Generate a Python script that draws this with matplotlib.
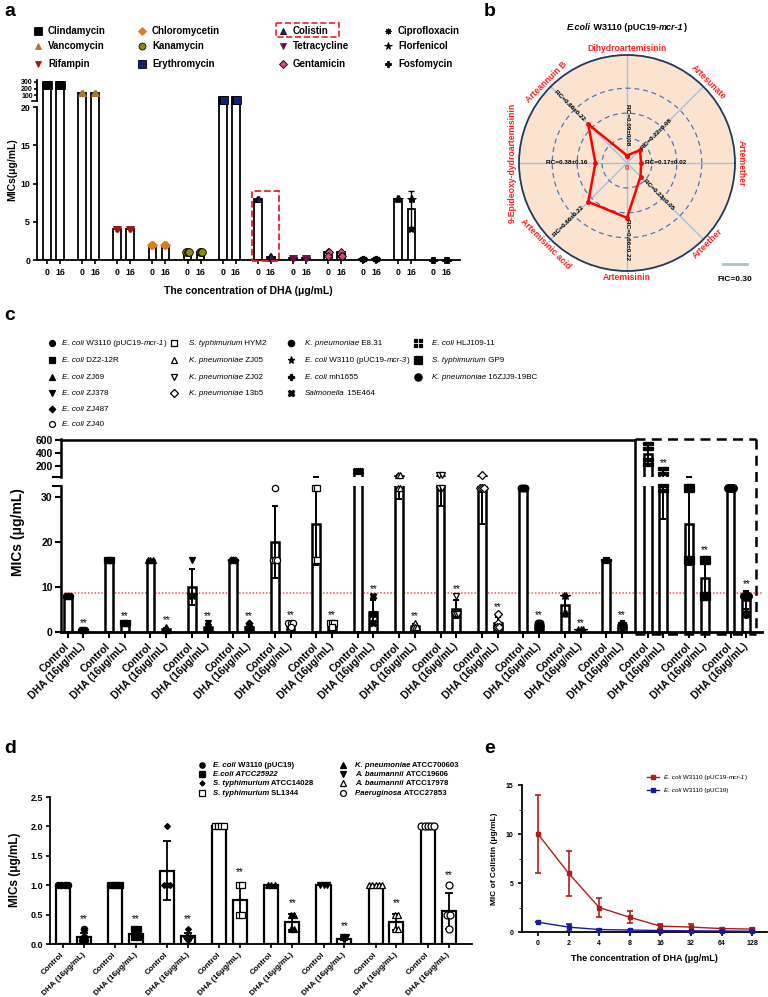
import numpy as np
import matplotlib
matplotlib.use('Agg')
import matplotlib.pyplot as plt
import matplotlib.transforms as mtransforms
from matplotlib.patches import Rectangle
from matplotlib.lines import Line2D
from matplotlib.path import Path
from matplotlib.ticker import MultipleLocator

plt.rcParams.update({
    'font.family': ['Liberation Sans', 'DejaVu Sans'],
    'font.weight': 'bold',
    'axes.labelweight': 'bold',
    'axes.linewidth': 1.3,
    'xtick.major.width': 1.2,
    'ytick.major.width': 1.2,
})

# ======================= DATA =======================
# ---- panel a ----
a_drugs = ['Clindamycin', 'Vancomycin', 'Rifampin', 'Chloromycetin', 'Kanamycin', 'Erythromycin',
           'Colistin', 'Tetracycline', 'Gentamicin', 'Ciprofloxacin', 'Florfenicol', 'Fosfomycin']
a_ctrl = [256, 128, 4, 2, 1, 32, 8, 0.25, 1, 0.125, 8, 0.0625]
a_ctrl_sd = [0, 0, 0, 0, 0, 0, 0, 0, 0, 0, 0, 0]
a_dha = [256, 128, 4, 2, 1, 32, 0.4, 0.25, 1, 0.125, 6.67, 0.0625]
a_dha_sd = [0, 0, 0, 0, 0, 0, 0, 0, 0, 0, 2.31, 0]
a_ctrl_pts = [[256] * 3, [128] * 3, [4] * 3, [2] * 3, [1] * 3, [32] * 3, [8] * 3, [0.25] * 3,
              [1, 1, 0.5], [0.125] * 3, [8] * 3, [0.0625] * 3]
a_dha_pts = [[256] * 3, [128] * 3, [4] * 3, [2] * 3, [1] * 3, [32] * 3, [0.5, 0.25, 0.5], [0.25] * 3,
             [1, 0.5, 0.5], [0.125] * 3, [8, 8, 4], [0.0625] * 3]
a_ticklabels = ['0', '16']

# ---- panel b ----
b_title = '_E.coli_ W3110 (pUC19-_mcr-1_)'
b_agents = ['Dihydroartemisinin', 'Artesunate', 'Artemether', 'Arteether', 'Artemisinin',
            'Artemisinic acid', '9-Epideoxy-dydroartemisinin', 'Arteannuin B']
b_fic = [0.09, 0.22, 0.17, 0.23, 0.66, 0.66, 0.38, 0.66]
b_sd = [0.08, 0.08, 0.02, 0.05, 0.22, 0.22, 0.16, 0.22]
b_rings = [0.3, 0.6, 0.9]

# ---- panel c ----  (bar order; '_' marks italic parts)
c_strains = ['_E. coli_ W3110 (pUC19-_mcr-1_)', '_E. coli_ DZ2-12R', '_E. coli_ ZJ69', '_E. coli_ ZJ378',
             '_E. coli_ ZJ487', '_E. coli_ ZJ40', '_S. typhimurium_ HYM2', '_Salmonella_ 15E464',
             '_K. pneumoniae_ ZJ05', '_K. pneumoniae_ ZJ02', '_K. pneumoniae_ 13b5', '_K. pneumoniae_ E8.31',
             '_E. coli_ W3110 (pUC19-_mcr-3_)', '_E. coli_ mh1655', '_E. coli_ HLJ109-11',
             '_S. typhimurium_ GP9', '_K. pneumoniae_ 16ZJJ9-19BC']
c_ctrl_mean = [8, 16, 16, 10, 16, 20, 24, 128, 48, 48, 40, 32, 6, 16, 384, 24, 32]
c_ctrl_sd = [0, 0, 0, 4, 0, 8, 9.24, 0, 18.5, 20, 16, 0, 2.31, 0, 148, 9.24, 0]
c_ctrl_pts = [[8, 8, 8], [16, 16, 16], [16, 16, 16], [16, 8, 8, 8], [16, 16, 16], [32, 16, 16, 16],
              [32, 32, 16, 16], [128, 128, 128], [64, 64, 32, 32], [64, 64, 32, 32], [64, 32, 32, 32],
              [32, 32, 32], [8, 8, 4, 4], [16, 16, 16], [512, 512, 256, 256], [32, 32, 16, 16], [32, 32, 32]]
c_dha_mean = [0.5, 2, 0.67, 1, 1.1, 1.75, 1.75, 4.5, 1.25, 5, 2, 1.5, 0.5, 1.5, 80, 12, 7]
c_dha_sd = [0, 0, 0.29, 0.71, 0.63, 0.5, 0.5, 2.5, 0.5, 2, 1.41, 0.58, 0, 0.58, 55, 4.62, 2]
c_dha_pts = [[0.5, 0.5, 0.5], [2, 2, 2], [1, 0.5, 0.5], [2, 1, 0.5, 0.5], [2, 1, 1, 0.5], [2, 2, 2, 1],
             [2, 2, 2, 1], [8, 4, 4, 2], [2, 1, 1, 1], [8, 4, 4, 4], [4, 2, 1, 1], [2, 2, 1, 1],
             [0.5, 0.5, 0.5], [2, 2, 1, 1], [128, 128, 32, 32], [16, 16, 8, 8], [8, 8, 8, 4]]
c_breakpoint = 8.6
c_ticklabels = ['Control', 'DHA (16\u03bcg/mL)']

# ---- panel d ----
d_strains = ['_E. coli_ W3110 (pUC19)', '_E.coli ATCC25922_', '_S. typhimurium_ ATCC14028',
             '_S. typhimurium_ SL1344', '_K. pneumoniae_ ATCC700603', '_A. baumannii_ ATCC19606',
             '_A. baumannii_ ATCC17978', '_P.aeruginosa_ ATCC27853']
d_ctrl_mean = [1, 1, 1.25, 2, 1, 1, 1, 2]
d_ctrl_sd = [0, 0, 0.5, 0, 0, 0, 0, 0]
d_ctrl_pts = [[1, 1, 1, 1], [1, 1, 1, 1], [2, 1, 1, 1], [2, 2, 2, 2], [1, 1, 1], [1, 1, 1],
              [1, 1, 1, 1, 1], [2, 2, 2, 2, 2]]
d_dha_mean = [0.125, 0.17, 0.14, 0.75, 0.375, 0.09, 0.375, 0.5625]
d_dha_sd = [0.07, 0.06, 0.05, 0.29, 0.14, 0.03, 0.14, 0.31]
d_dha_pts = [[0.25, 0.125, 0.0625, 0.0625], [0.25, 0.25, 0.125, 0.125], [0.25, 0.125, 0.125, 0.0625],
             [1, 1, 0.5, 0.5], [0.5, 0.5, 0.25, 0.25], [0.125, 0.125, 0.0625], [0.5, 0.5, 0.25, 0.25],
             [1, 0.5, 0.5, 0.25]]
d_ticklabels = ['Control', 'DHA (16\u03bcg/mL)']

# ---- panel e ----
e_conc = ['0', '2', '4', '8', '16', '32', '64', '128']
e_mcr1 = [10, 6, 2.5, 1.5, 0.6, 0.5, 0.35, 0.3]
e_mcr1_sd = [4, 2.3, 1, 0.6, 0.25, 0.35, 0.1, 0.1]
e_puc = [1, 0.5, 0.25, 0.2, 0.15, 0.12, 0.1, 0.08]
e_puc_sd = [0, 0.35, 0.05, 0.05, 0.05, 0.03, 0.02, 0.02]
e_series = ['_E. coli_ W3110 (pUC19-_mcr-1_)', '_E. coli_ W3110 (pUC19)']

# ======================= STYLE =======================
a_styles = [dict(marker='s', mfc='k', mec='k'), dict(marker='^', mfc='#a8762e', mec='#a8762e'),
            dict(marker='v', mfc='#a31616', mec='#a31616'), dict(marker='D', mfc='#e07b1a', mec='#e07b1a'),
            dict(marker='o', mfc='#8b8b12', mec='k'), dict(marker='s', mfc='#14207a', mec='k'),
            dict(marker='^', mfc='#4b1560', mec='k'), dict(marker='v', mfc='#6b1048', mec='#6b1048'),
            dict(marker='D', mfc='#e0457b', mec='k'), dict(marker=(8, 1, 0), mfc='k', mec='k'),
            dict(marker='*', mfc='k', mec='k'), dict(marker='P', mfc='k', mec='k')]
a_ms = [6, 5, 5, 4, 5.5, 6, 5, 5, 4, 5, 6, 5]

_v, _c = [], []
for sx in (-1, 1):
    for sy in (-1, 1):
        _v += [(sx * 0.15, sy * 0.15), (sx * 1, sy * 0.15), (sx * 1, sy * 1), (sx * 0.15, sy * 1), (0, 0)]
        _c += [Path.MOVETO, Path.LINETO, Path.LINETO, Path.LINETO, Path.CLOSEPOLY]
crossbox = Path(_v, _c)

c_styles = [dict(marker='o', mfc='k'), dict(marker='s', mfc='k'), dict(marker='^', mfc='k'),
            dict(marker='v', mfc='k'), dict(marker='D', mfc='k'), dict(marker='o', mfc='white'),
            dict(marker='s', mfc='white'), dict(marker='X', mfc='k'), dict(marker='^', mfc='white'),
            dict(marker='v', mfc='white'), dict(marker='D', mfc='white'), dict(marker='o', mfc='k'),
            dict(marker='*', mfc='k'), dict(marker='P', mfc='k'), dict(marker=crossbox, mfc='k'),
            dict(marker='s', mfc='k'), dict(marker='o', mfc='k')]
c_ms = [4.5, 4.5, 4.5, 4.5, 3.5, 4.5, 4.5, 5, 4.5, 4.5, 3.8, 4.8, 5.5, 5, 5.5, 5.5, 5.5]
c_leg_pos = [(0, 0), (0, 1), (0, 2), (0, 3), (0, 4), (0, 5), (1, 0), (2, 3), (1, 1), (1, 2), (1, 3),
             (2, 0), (2, 1), (2, 2), (3, 0), (3, 1), (3, 2)]

d_styles = [dict(marker='o', mfc='k'), dict(marker='s', mfc='k'), dict(marker='D', mfc='k'),
            dict(marker='s', mfc='white'), dict(marker='^', mfc='k'), dict(marker='v', mfc='k'),
            dict(marker='^', mfc='white'), dict(marker='o', mfc='white')]
d_ms = [4.5, 4.5, 3, 5, 4.5, 4.5, 5, 5]

W, H = 768, 997
fig = plt.figure(figsize=(W / 100, H / 100), dpi=100)
renderer = fig.canvas.get_renderer()


def rect(l, t, r, b):
    return [l / W, 1 - b / H, (r - l) / W, (b - t) / H]


def spread_x(x, vals, dx):
    vals = np.asarray(vals, float)
    xs = np.empty(len(vals))
    for v in np.unique(vals):
        idx = np.where(vals == v)[0]
        xs[idx] = x + (np.arange(len(idx)) - (len(idx) - 1) / 2) * dx
    return xs


def draw_bar(ax, x, mean, sd, pts, style, ms, bw, lw, dx, lo=None, hi=None, elw=1.2, cap=2.5, mew=0.8):
    if lo is None or mean > lo:
        ax.bar(x, mean, width=bw, color='white', edgecolor='k', linewidth=lw, zorder=2)
    if sd > 0 and (lo is None or mean + sd > lo):
        el, eh = sd, sd
        if lo is not None and mean - sd < lo:
            el = mean - (lo - 1e4)
        if hi is not None and mean + sd > hi:
            eh = hi + 1e4 - mean
        ax.errorbar(x, mean, yerr=[[el], [eh]], fmt='none', ecolor='k', elinewidth=elw, capsize=cap,
                    capthick=elw, zorder=3)
    p = np.asarray(pts, float)
    xs = spread_x(x, p, dx)
    keep = np.ones(len(p), bool)
    if lo is not None:
        keep &= p > lo
    if hi is not None:
        keep &= p <= hi
    st = dict(style)
    st.setdefault('mec', 'k')
    if keep.any():
        ax.plot(xs[keep], p[keep], ls='none', ms=ms, mew=mew, zorder=4, clip_on=False, **st)


def bold_ticks(ax, size):
    for lab in ax.get_xticklabels() + ax.get_yticklabels():
        lab.set_fontweight('bold')
        lab.set_fontsize(size)


ov = fig.add_axes([0, 0, 1, 1], zorder=20)
ov.set_xlim(0, W)
ov.set_ylim(H, 0)
ov.axis('off')
ov.patch.set_alpha(0)


def text_width(s, size, weight, style):
    t = ov.text(0, 0, '|' + s + '|', fontsize=size, fontweight=weight, fontstyle=style)
    t2 = ov.text(0, 0, '||', fontsize=size, fontweight=weight, fontstyle=style)
    w = t.get_window_extent(renderer).width - t2.get_window_extent(renderer).width
    t.remove()
    t2.remove()
    return w


def rich(x, y, label, size, weight='normal', ha='left', color='k'):
    parts = label.split('_')
    segs = [(p, 'italic' if k % 2 else 'normal') for k, p in enumerate(parts) if p]
    widths = [text_width(s, size, weight, st) for s, st in segs]
    cx = x - sum(widths) / 2 if ha == 'center' else x
    for (s, st), w in zip(segs, widths):
        ov.text(cx, y, s, fontsize=size, fontweight=weight, fontstyle=st, va='center', ha='left',
                color=color)
        cx += w


for letter, (lx, ly) in zip('abcde', [(10, 12), (490, 12), (10, 315), (10, 748), (490, 748)]):
    ov.text(lx, ly, letter, fontsize=14, weight='bold', ha='center', va='center')

# ======================= PANEL A =======================
axa_lo = fig.add_axes(rect(37, 101, 460, 260))
axa_hi = fig.add_axes(rect(37, 80, 460, 101))
ax_a_x = np.arange(len(a_drugs))
a_off, a_bw = 0.186, 0.22
for i in range(len(a_drugs)):
    for k, (m, s, pts) in enumerate([(a_ctrl[i], a_ctrl_sd[i], a_ctrl_pts[i]),
                                     (a_dha[i], a_dha_sd[i], a_dha_pts[i])]):
        x = ax_a_x[i] + (k * 2 - 1) * a_off
        draw_bar(axa_lo, x, m, s, pts, a_styles[i], a_ms[i], a_bw, 1.3, 0.03, hi=20.8, elw=1.0, cap=2, mew=0.6)
        draw_bar(axa_hi, x, m, s, pts, a_styles[i], a_ms[i], a_bw, 1.3, 0.03, lo=20.8, elw=1.0, cap=2, mew=0.6)
for ax in (axa_lo, axa_hi):
    ax.set_xlim(-0.47, 11.57)
    ax.spines['top'].set_visible(False)
    ax.spines['right'].set_visible(False)
axa_lo.set_ylim(0, 20.8)
axa_lo.spines['left'].set_bounds(0, 20)
axa_lo.set_yticks([0, 5, 10, 15, 20])
axa_lo.tick_params(axis='y', length=3, pad=2)
xt = np.ravel([[x - a_off, x + a_off] for x in ax_a_x])
axa_lo.set_xticks(xt)
axa_lo.set_xticklabels(a_ticklabels * len(a_drugs))
axa_lo.tick_params(axis='x', length=3, pad=3)
bold_ticks(axa_lo, 6.3)
axa_hi.set_ylim(10, 330)
axa_hi.spines['bottom'].set_visible(False)
axa_hi.set_xticks([])
axa_hi.set_yticks([100, 200, 300])
axa_hi.tick_params(axis='y', length=2, pad=1)
bold_ticks(axa_hi, 5)
axa_hi.plot([-0.012, 0], [0, 0], transform=axa_hi.transAxes, color='k', lw=1.2, clip_on=False)
axa_lo.set_xlabel('The concentration of DHA (\u03bcg/mL)', fontsize=7.5, labelpad=6)
fig.text(12 / W, 1 - 170 / H, 'MICs(\u03bcg/mL)', rotation=90, fontsize=7.5, weight='bold',
         ha='center', va='center')
ci = a_drugs.index('Colistin')
axa_lo.add_patch(Rectangle((ax_a_x[ci] - a_off - 0.17, -0.15), 2 * a_off + 0.39, 9.2, fill=False,
                           ec='#e8222a', ls='--', lw=1.3, clip_on=False, zorder=6))

a_mx, a_tx, a_ry = [38, 142, 283, 388], [48, 152, 293, 398], [31, 46, 64]
for i, name in enumerate(a_drugs):
    c, r = i // 3, i % 3
    ov.plot(a_mx[c], a_ry[r], ls='none', ms=a_ms[i] * 0.9, mew=0.6, **a_styles[i])
    ov.text(a_tx[c], a_ry[r], name, fontsize=7, weight='bold', va='center', ha='left')
ov.add_patch(Rectangle((276, 23), 63, 14, fill=False, ec='#e8222a', ls='--', lw=1.2))

# ======================= PANEL B =======================
axb = fig.add_axes(rect(519, 55, 735, 271), projection='polar')
b_ang = np.array([90, 45, 0, -45, -90, -135, 180, 135])
th = np.deg2rad(b_ang)
axb.set_facecolor('#fbe3cf')
axb.set_ylim(0, 1.3)
axb.set_yticks(b_rings)
axb.set_yticklabels([])
axb.set_xticks(np.deg2rad(np.arange(0, 360, 45)))
axb.set_xticklabels([])
axb.xaxis.grid(True, color='#9dc3e6', lw=1.0, ls='-')
axb.yaxis.grid(True, color='#4a78c0', lw=0.9, ls=(0, (4, 3)))
axb.spines['polar'].set_color('#1f3864')
axb.spines['polar'].set_linewidth(1.3)
axb.plot(np.append(th, th[0]), np.append(b_fic, b_fic[0]), color='#ff0000', lw=1.8, marker='o',
         ms=2.5, zorder=5)
b_text_r = [0.45, 0.5, 0.46, 0.54, 0.93, 0.99, 0.72, 0.97]
for t, a, name, m, s, tr in zip(th, b_ang, b_agents, b_fic, b_sd, b_text_r):
    rot_lab = a - 90 if a >= 0 else a + 90
    axb.text(t, 1.38, name, color='#ff2020', fontsize=6.2, weight='bold', rotation=rot_lab,
             rotation_mode='anchor', ha='center', va='center')
    rot_ann = ((a + 90) % 180) - 90
    axb.text(t, tr, 'FIC=%.2f\u00b1%.2f' % (m, s), fontsize=4.6, weight='bold', rotation=rot_ann,
             rotation_mode='anchor', ha='center', va='center', zorder=6)
axb.text(np.deg2rad(-90), 0.07, '0', color='#ff2020', fontsize=5.5, ha='center', va='center')
rich(627, 28, b_title, 6.5, weight='bold', ha='center')
ov.plot([723, 747], [264, 264], color='#9dc3e6', lw=2)
ov.text(735, 279, 'FIC=%.2f' % b_rings[0], fontsize=6, weight='bold', ha='center', va='center')

# ======================= PANEL C =======================
axc_lo = fig.add_axes(rect(61, 486, 762, 632))
axc_hi = fig.add_axes(rect(61, 439, 762, 477))
nC = len(c_strains)
cx = np.arange(nC)
c_off, c_bw = 0.19, 0.19
for i in range(nC):
    for k, (m, s, pts) in enumerate([(c_ctrl_mean[i], c_ctrl_sd[i], c_ctrl_pts[i]),
                                     (c_dha_mean[i], c_dha_sd[i], c_dha_pts[i])]):
        x = cx[i] + (k * 2 - 1) * c_off
        draw_bar(axc_lo, x, m, s, pts, c_styles[i], c_ms[i], c_bw, 1.8, 0.05, hi=33, elw=1.4, cap=2.5, mew=0.9)
        draw_bar(axc_hi, x, m, s, pts, c_styles[i], c_ms[i], c_bw, 1.8, 0.05, lo=33, elw=1.4, cap=2.5, mew=0.9)
    top = max(max(c_dha_pts[i]), c_dha_mean[i] + c_dha_sd[i])
    axs = axc_hi if top > 33 else axc_lo
    axs.annotate('**', (cx[i] + c_off, top), xytext=(0, 1.5), textcoords='offset points',
                 ha='center', va='bottom', fontsize=7, weight='normal', annotation_clip=False)
for ax in (axc_lo, axc_hi):
    ax.set_xlim(-0.35, 16.57)
    ax.spines['top'].set_visible(False)
    ax.spines['right'].set_visible(False)
axc_lo.set_ylim(0, 32.4)
axc_lo.set_yticks([0, 10, 20, 30])
axc_lo.spines['bottom'].set_linewidth(2)
axc_lo.spines['left'].set_linewidth(1.8)
axc_lo.axhline(c_breakpoint, color='#ff4d4d', ls=(0, (1, 1.2)), lw=1.1, zorder=1)
xt = np.ravel([[x - c_off, x + c_off] for x in cx])
axc_lo.set_xticks(xt)
axc_lo.set_xticklabels(c_ticklabels * nC, rotation=45, ha='right', va='center', rotation_mode='anchor')
axc_lo.tick_params(axis='x', length=4, width=1.5, pad=5)
axc_lo.tick_params(axis='y', length=4, width=1.5, pad=2)
bold_ticks(axc_lo, 7.5)
axc_lo.plot([-0.012, 0], [1, 1], transform=axc_lo.transAxes, color='k', lw=1.5, clip_on=False)
axc_hi.set_ylim(30, 620)
axc_hi.spines['bottom'].set_visible(False)
axc_hi.spines['left'].set_linewidth(1.8)
axc_hi.set_xticks([])
axc_hi.set_yticks([200, 400, 600])
axc_hi.tick_params(axis='y', length=4, width=1.5, pad=2)
bold_ticks(axc_hi, 7.5)
axc_hi.plot([-0.012, 0], [0, 0], transform=axc_hi.transAxes, color='k', lw=1.5, clip_on=False)
fig.text(18 / W, 1 - 532 / H, 'MICs (\u03bcg/mL)', rotation=90, fontsize=10, weight='bold',
         ha='center', va='center')
sep = 13.5
box_r = 16.42
tr_c = mtransforms.blended_transform_factory(axc_lo.transData, fig.transFigure)
xl0 = axc_lo.get_xlim()[0]
fig.add_artist(Line2D([xl0, sep], [1 - 440 / H, 1 - 440 / H], transform=tr_c, color='k', lw=1.8))
fig.add_artist(Line2D([sep, sep], [1 - 440 / H, 1 - 632 / H], transform=tr_c, color='k', lw=1.8))
for xs_, ys_ in [([sep, box_r], [439, 439]), ([box_r, box_r], [439, 634]), ([sep, box_r], [634, 634])]:
    fig.add_artist(Line2D(xs_, [1 - y / H for y in ys_], transform=tr_c, color='k', lw=1.8,
                          ls=(0, (4, 2.5))))
c_mx, c_tx = [52, 174, 291, 418], [62, 189, 305, 432]
c_ry = [343, 360, 377, 393, 409, 424]
for i, name in enumerate(c_strains):
    col, row = c_leg_pos[i]
    ov.plot(c_mx[col], c_ry[row], ls='none', ms=c_ms[i] * 0.95, mec='k', mew=0.9, **c_styles[i])
    rich(c_tx[col], c_ry[row], name, 5.8)

# ======================= PANEL D =======================
axd = fig.add_axes(rect(50, 797, 472, 944))
nD = len(d_strains)
dx_ = np.arange(nD)
d_off, d_bw = 0.2, 0.27
for i in range(nD):
    for k, (m, s, pts) in enumerate([(d_ctrl_mean[i], d_ctrl_sd[i], d_ctrl_pts[i]),
                                     (d_dha_mean[i], d_dha_sd[i], d_dha_pts[i])]):
        x = dx_[i] + (k * 2 - 1) * d_off
        draw_bar(axd, x, m, s, pts, d_styles[i], d_ms[i], d_bw, 1.6, 0.06, elw=1.3, cap=3, mew=0.9)
    top = max(max(d_dha_pts[i]), d_dha_mean[i] + d_dha_sd[i])
    axd.annotate('**', (dx_[i] + d_off, top), xytext=(0, 4), textcoords='offset points',
                 ha='center', va='bottom', fontsize=7, weight='normal')
axd.set_xlim(-0.45, 7.65)
axd.set_ylim(0, 2.5)
axd.set_yticks([0, 0.5, 1.0, 1.5, 2.0, 2.5])
axd.set_yticklabels(['0.0', '0.5', '1.0', '1.5', '2.0', '2.5'])
axd.spines['top'].set_visible(False)
axd.spines['right'].set_visible(False)
xt = np.ravel([[x - d_off, x + d_off] for x in dx_])
axd.set_xticks(xt)
axd.set_xticklabels(d_ticklabels * nD, rotation=45, ha='right', va='center', rotation_mode='anchor')
axd.tick_params(axis='x', length=3, pad=4)
axd.tick_params(axis='y', length=3, pad=2)
bold_ticks(axd, 6.5)
for lab in axd.get_xticklabels():
    lab.set_fontsize(5.8)
fig.text(15 / W, 1 - 870 / H, 'MICs (\u03bcg/mL)', rotation=90, fontsize=8.5, weight='bold',
         ha='center', va='center')
d_mx, d_tx, d_ry = [202, 343], [213, 355], [765, 774, 783, 793]
for i, name in enumerate(d_strains):
    col, row = i // 4, i % 4
    ov.plot(d_mx[col], d_ry[row], ls='none', ms=d_ms[i] * 0.85, mec='k', mew=0.9, **d_styles[i])
    rich(d_tx[col], d_ry[row], name, 5.6, weight='bold')

# ======================= PANEL E =======================
axe = fig.add_axes(rect(522, 785, 767, 932))
ex = np.arange(len(e_conc))
e_cols = ['#b31b1b', '#1a1a9e']
for vals, sds, col in [(e_mcr1, e_mcr1_sd, e_cols[0]), (e_puc, e_puc_sd, e_cols[1])]:
    axe.errorbar(ex, vals, yerr=sds, color=col, lw=1.0, marker='s', ms=3, elinewidth=1.2,
                 capsize=2.5, capthick=1.2, clip_on=False, zorder=3)
axe.set_xlim(-0.52, 7.48)
axe.set_ylim(0, 15)
axe.set_yticks([0, 5, 10, 15])
axe.yaxis.set_minor_locator(MultipleLocator(2.5))
axe.set_xticks(ex)
axe.set_xticklabels(e_conc)
axe.spines['top'].set_visible(False)
axe.spines['right'].set_visible(False)
axe.tick_params(axis='both', length=3, pad=3)
axe.tick_params(axis='y', which='minor', length=2)
bold_ticks(axe, 5)
axe.set_xlabel('The concentration of DHA (\u03bcg/mL)', fontsize=6.5, labelpad=5)
axe.set_ylabel('MIC of Colistin (\u03bcg/mL)', fontsize=6, labelpad=6)
for j, (name, col) in enumerate(zip(e_series, e_cols)):
    yy = [777, 790][j]
    ov.plot([647, 659], [yy, yy], color=col, lw=1.0)
    ov.plot(653, yy, marker='s', ms=3, color=col)
    rich(664, yy, name, 4.6)

fig.savefig('out.png', dpi=100)
